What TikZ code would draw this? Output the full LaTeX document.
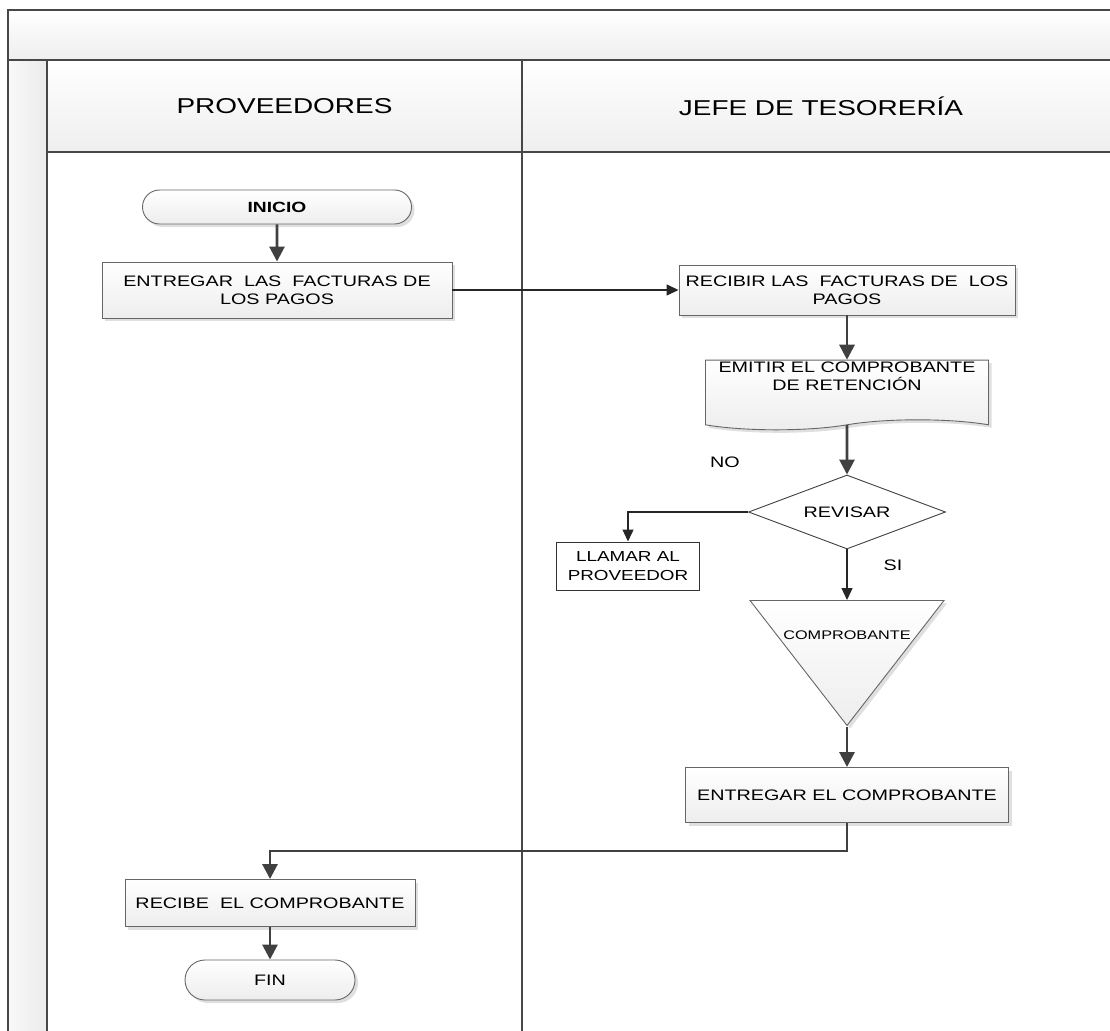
\documentclass[tikz,border=0pt]{standalone}
\usepackage{fontspec}
\setmainfont[FakeStretch=1.3]{Liberation Sans}
\usetikzlibrary{arrows.meta,shapes.geometric,shapes.misc,shapes.symbols,shadows}

\tikzset{
	lane/.style={draw=black!72, line width=1.3pt},
	lanehead/.style={lane, top color=white, bottom color=gray!13, font=\fontsize{21.5}{24}\selectfont},
	soft/.style={draw=black!60, line width=0.9pt, top color=white, bottom color=gray!14,
		drop shadow={shadow xshift=3pt, shadow yshift=-3pt, opacity=.25}},
	box/.style={rectangle, soft, align=center, inner sep=2pt},
	term/.style={rounded rectangle, soft, inner sep=0pt},
	doc/.style={tape, soft, tape bend top=none, tape bend bottom=in and out, tape bend height=10pt,
		align=center, inner ysep=2pt, text depth=27pt},
	decision/.style={diamond, draw=black!75, line width=0.9pt, fill=white, shape aspect=2.6, inner sep=0pt},
	tri/.style={isosceles triangle, isosceles triangle stretches, shape border rotate=270, soft, inner sep=0pt},
	flow/.style={draw=black!75, line width=2.8pt, -{Triangle[width=15pt,length=15pt]}},
	thinflow/.style={draw=black!85, line width=1.3pt, -{Triangle[width=11pt,length=12pt]}}
}

\begin{document}
\begin{tikzpicture}[x=1pt, y=-1pt, font=\fontsize{15.2}{18}\selectfont]
	\clip (0,0) rectangle (1110,1030);
	% marco del diagrama y carriles
	\draw[lanehead] (8,10) rectangle (1120,60);
	\draw[lane, left color=gray!5, right color=gray!16] (8,60) rectangle (47,1040);
	\node (hprov) at (284.5,106)	[lanehead, minimum width=475, minimum height=92]	{PROVEEDORES};
	\node (hjefe) at (821,106)	[lanehead, minimum width=598, minimum height=92]	{JEFE DE TESORERÍA};
	\draw[lane] (47,152) rectangle (522,1040);
	\draw[lane] (522,152) rectangle (1120,1040);

	% pasos
	\node (inicio) at (277,207)	[term, minimum width=269, minimum height=34, font=\bfseries\fontsize{14.8}{16}\selectfont]	{INICIO};
	\node (entregar) at (277,290)	[box, minimum width=350, minimum height=56]	{ENTREGAR\ \ LAS\ \ FACTURAS DE\\LOS PAGOS};
	\node (recibir) at (847,290)	[box, minimum width=336, minimum height=50]	{RECIBIR LAS\ \ FACTURAS DE\ \ LOS\\PAGOS};
	\node (emitir) at (847,390)	[doc, minimum width=283, minimum height=62]	{EMITIR EL COMPROBANTE\\DE RETENCIÓN};
	\node (revisar) at (847,512)	[decision, minimum width=197, minimum height=74]	{REVISAR};
	\node (llamar) at (628,566)	[rectangle, draw=black!80, line width=1pt, align=center, minimum width=143, minimum height=48, inner sep=2pt, font=\fontsize{14.5}{19}\selectfont]	{LLAMAR AL\\PROVEEDOR};
	\node (comp) at (847,600)	[tri, anchor=north, minimum width=194, minimum height=125,
		label={[anchor=north, yshift=-27pt, font=\fontsize{12.5}{14}\selectfont]north:COMPROBANTE}]	{};
	\node (entregarc) at (847,795)	[box, minimum width=323, minimum height=55]	{ENTREGAR EL COMPROBANTE};
	\node (recibe) at (270,903)	[box, minimum width=290, minimum height=47]	{RECIBE\ \ EL COMPROBANTE};
	\node (fin) at (270,980)	[term, minimum width=170, minimum height=40]	{FIN};
	\node (no) at (725,462)	{NO};
	\node (si) at (893,565)	{SI};

	% conectores
	\draw[flow] (inicio) -- (entregar);
	\draw[thinflow] (entregar) -- (recibir);
	\draw[flow] (recibir) -- (emitir);
	\draw[flow] (emitir) -- (revisar);
	\draw[thinflow] (revisar.west) -| (llamar.north);
	\draw[thinflow] (revisar.south) -- (comp.north);
	\draw[flow] (comp.apex) -- (entregarc);
	\draw[flow] (entregarc.south) -- ++(0,28) -| (recibe.north);
	\draw[flow] (recibe) -- (fin);
\end{tikzpicture}
\end{document}
